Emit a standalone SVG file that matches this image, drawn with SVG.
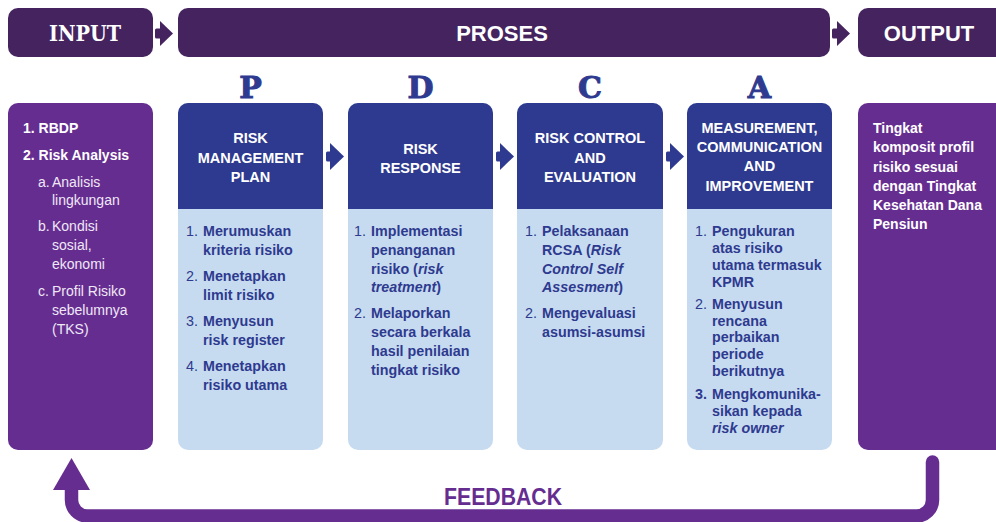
<svg xmlns="http://www.w3.org/2000/svg" width="996" height="522" viewBox="0 0 996 522">
  <defs>
    <style>
      .bar { fill: #44235f; }
      .side { fill: #662d91; }
      .hd { fill: #2e3a8f; }
      .bd { fill: #c7dbf0; }
      .chev-top { fill: #44235f; }
      .chev { fill: #2e3a8f; }
      text { font-family: "Liberation Sans", Arial, sans-serif; }
      .t-bar { fill: #ffffff; font-size: 22px; font-weight: 700; text-anchor: middle; }
      .t-serif { font-family: "DejaVu Serif", "Liberation Serif", serif; }
      .t-letter { fill: #2e3a8f; stroke: #2e3a8f; stroke-width: 1; font-family: "DejaVu Serif", "Liberation Serif", serif; font-size: 30px; font-weight: 700; text-anchor: middle; }
      .t-hd { fill: #ffffff; font-size: 14.5px; font-weight: 700; text-anchor: middle; }
      .t-bd { fill: #2e3a8f; font-size: 14.3px; font-weight: 700; }
      .n { font-weight: 400; }
      .t-side { fill: #ffffff; font-size: 14px; font-weight: 700; }
      .t-sub { fill: #efe8f5; font-size: 14px; font-weight: 400; }
      .t-fb { fill: #662d91; font-size: 24px; font-weight: 700; text-anchor: middle; }
    </style>
  </defs>

  <!-- top stage bars -->
  <g id="bar-input">
    <rect class="bar" x="8" y="8" width="145" height="49" rx="10"/>
    <text class="t-bar t-serif" x="85" y="41" textLength="72" lengthAdjust="spacingAndGlyphs">INPUT</text>
  </g>
  <g id="bar-proses">
    <rect class="bar" x="178" y="8" width="652" height="49" rx="10"/>
    <text class="t-bar" x="502" y="41">PROSES</text>
  </g>
  <g id="bar-output">
    <rect class="bar" x="858" y="8" width="150" height="49" rx="10"/>
    <text class="t-bar" x="929" y="41">OUTPUT</text>
  </g>

  <!-- PDCA letters -->
  <g id="letters">
    <text class="t-letter" x="250.5" y="98">P</text>
    <text class="t-letter" x="420.5" y="98">D</text>
    <text class="t-letter" x="590" y="98">C</text>
    <text class="t-letter" x="759.5" y="98">A</text>
  </g>

  <!-- input box -->
  <g id="input">
    <rect class="side" x="8" y="103" width="145" height="347" rx="10"/>
    <text class="t-side" x="23" y="133">1. RBDP</text>
    <text class="t-side" x="23" y="160">2. Risk Analysis</text>
    <text class="t-sub" x="38" y="187">a.</text>
    <text class="t-sub" x="52" y="187">Analisis</text>
    <text class="t-sub" x="52" y="205">lingkungan</text>
    <text class="t-sub" x="38" y="231">b.</text>
    <text class="t-sub" x="52" y="231">Kondisi</text>
    <text class="t-sub" x="52" y="250">sosial,</text>
    <text class="t-sub" x="52" y="269">ekonomi</text>
    <text class="t-sub" x="38" y="296">c.</text>
    <text class="t-sub" x="52" y="296">Profil Risiko</text>
    <text class="t-sub" x="52" y="315">sebelumnya</text>
    <text class="t-sub" x="52" y="334">(TKS)</text>
  </g>

  <!-- P: plan -->
  <g id="plan">
    <rect class="bd" x="178" y="103" width="145" height="347" rx="10"/>
    <path class="hd" d="M178 209 V113 A10 10 0 0 1 188 103 H313 A10 10 0 0 1 323 113 V209 Z"/>
    <text class="t-hd" x="250.5" y="143">RISK</text>
    <text class="t-hd" x="250.5" y="163">MANAGEMENT</text>
    <text class="t-hd" x="250.5" y="182">PLAN</text>
    <text class="t-bd n" x="186" y="236">1.</text>
    <text class="t-bd" x="203" y="236">Merumuskan</text>
    <text class="t-bd" x="203" y="254.5">kriteria risiko</text>
    <text class="t-bd n" x="186" y="281">2.</text>
    <text class="t-bd" x="203" y="281">Menetapkan</text>
    <text class="t-bd" x="203" y="299.5">limit risiko</text>
    <text class="t-bd n" x="186" y="326">3.</text>
    <text class="t-bd" x="203" y="326">Menyusun</text>
    <text class="t-bd" x="203" y="344.5">risk register</text>
    <text class="t-bd n" x="186" y="371">4.</text>
    <text class="t-bd" x="203" y="371">Menetapkan</text>
    <text class="t-bd" x="203" y="389.5">risiko utama</text>
  </g>

  <!-- D: do -->
  <g id="do">
    <rect class="bd" x="348" y="103" width="145" height="347" rx="10"/>
    <path class="hd" d="M348 209 V113 A10 10 0 0 1 358 103 H483 A10 10 0 0 1 493 113 V209 Z"/>
    <text class="t-hd" x="420.5" y="154">RISK</text>
    <text class="t-hd" x="420.5" y="173">RESPONSE</text>
    <text class="t-bd n" x="354" y="236">1.</text>
    <text class="t-bd" x="371" y="236">Implementasi</text>
    <text class="t-bd" x="371" y="255">penanganan</text>
    <text class="t-bd" x="371" y="273.5">risiko (<tspan font-style="italic">risk</tspan></text>
    <text class="t-bd" x="371" y="292"><tspan font-style="italic">treatment</tspan>)</text>
    <text class="t-bd n" x="354" y="318">2.</text>
    <text class="t-bd" x="371" y="318">Melaporkan</text>
    <text class="t-bd" x="371" y="337">secara berkala</text>
    <text class="t-bd" x="371" y="356">hasil penilaian</text>
    <text class="t-bd" x="371" y="374.5">tingkat risiko</text>
  </g>

  <!-- C: check -->
  <g id="check">
    <rect class="bd" x="517" y="103" width="146" height="347" rx="10"/>
    <path class="hd" d="M517 209 V113 A10 10 0 0 1 527 103 H653 A10 10 0 0 1 663 113 V209 Z"/>
    <text class="t-hd" x="590" y="143">RISK CONTROL</text>
    <text class="t-hd" x="590" y="163">AND</text>
    <text class="t-hd" x="590" y="182">EVALUATION</text>
    <text class="t-bd n" x="525" y="236">1.</text>
    <text class="t-bd" x="542" y="236">Pelaksanaan</text>
    <text class="t-bd" x="542" y="255">RCSA (<tspan font-style="italic">Risk</tspan></text>
    <text class="t-bd" x="542" y="273.5" font-style="italic">Control Self</text>
    <text class="t-bd" x="542" y="292"><tspan font-style="italic">Assesment</tspan>)</text>
    <text class="t-bd n" x="525" y="318">2.</text>
    <text class="t-bd" x="542" y="318">Mengevaluasi</text>
    <text class="t-bd" x="542" y="337">asumsi-asumsi</text>
  </g>

  <!-- A: act -->
  <g id="act">
    <rect class="bd" x="687" y="103" width="145" height="347" rx="10"/>
    <path class="hd" d="M687 209 V113 A10 10 0 0 1 697 103 H822 A10 10 0 0 1 832 113 V209 Z"/>
    <text class="t-hd" x="759.5" y="133">MEASUREMENT,</text>
    <text class="t-hd" x="759.5" y="152">COMMUNICATION</text>
    <text class="t-hd" x="759.5" y="171">AND</text>
    <text class="t-hd" x="759.5" y="191">IMPROVEMENT</text>
    <text class="t-bd n" x="695" y="236">1.</text>
    <text class="t-bd" x="712" y="236">Pengukuran</text>
    <text class="t-bd" x="712" y="253">atas risiko</text>
    <text class="t-bd" x="712" y="270">utama termasuk</text>
    <text class="t-bd" x="712" y="286.5">KPMR</text>
    <text class="t-bd n" x="695" y="308.5">2.</text>
    <text class="t-bd" x="712" y="308.5">Menyusun</text>
    <text class="t-bd" x="712" y="325.5">rencana</text>
    <text class="t-bd" x="712" y="342">perbaikan</text>
    <text class="t-bd" x="712" y="359">periode</text>
    <text class="t-bd" x="712" y="376">berikutnya</text>
    <text class="t-bd" x="695" y="399">3.</text>
    <text class="t-bd" x="712" y="399">Mengkomunika-</text>
    <text class="t-bd" x="712" y="416">sikan kepada</text>
    <text class="t-bd" x="712" y="433" font-style="italic">risk owner</text>
  </g>

  <!-- output box -->
  <g id="output">
    <rect class="side" x="858" y="103" width="150" height="347" rx="10"/>
    <text class="t-side" x="873" y="133">Tingkat</text>
    <text class="t-side" x="873" y="152">komposit profil</text>
    <text class="t-side" x="873" y="171.5">risiko sesuai</text>
    <text class="t-side" x="873" y="191">dengan Tingkat</text>
    <text class="t-side" x="873" y="210">Kesehatan Dana</text>
    <text class="t-side" x="873" y="229">Pensiun</text>
  </g>

  <!-- connectors -->
  <g id="connectors">
    <!-- stage chevrons -->
    <rect class="chev-top" x="155" y="28.5" width="7" height="10" rx="1.5"/>
    <polygon class="chev-top" points="160,21 173,33.5 160,46"/>
    <rect class="chev-top" x="832" y="28.5" width="7" height="10" rx="1.5"/>
    <polygon class="chev-top" points="837,21 850,33.5 837,46"/>
    <!-- PDCA chevrons -->
    <rect class="chev" x="326" y="151.5" width="6" height="10" rx="1.5"/>
    <polygon class="chev" points="330,143 344,156.5 330,170"/>
    <rect class="chev" x="496" y="151.5" width="6" height="10" rx="1.5"/>
    <polygon class="chev" points="500,143 514,156.5 500,170"/>
    <rect class="chev" x="666" y="151.5" width="6" height="10" rx="1.5"/>
    <polygon class="chev" points="670,143 684,156.5 670,170"/>
    <!-- feedback loop -->
    <path d="M932.5 462 V500 A16 16 0 0 1 916.5 516 H87 A16 16 0 0 1 71.5 500 V488" fill="none" stroke="#662d91" stroke-width="13.5" stroke-linecap="round"/>
    <polygon fill="#662d91" points="53,490 90,490 71.5,458"/>
  </g>

  <text class="t-fb" x="503" y="505" textLength="118" lengthAdjust="spacingAndGlyphs">FEEDBACK</text>
</svg>
